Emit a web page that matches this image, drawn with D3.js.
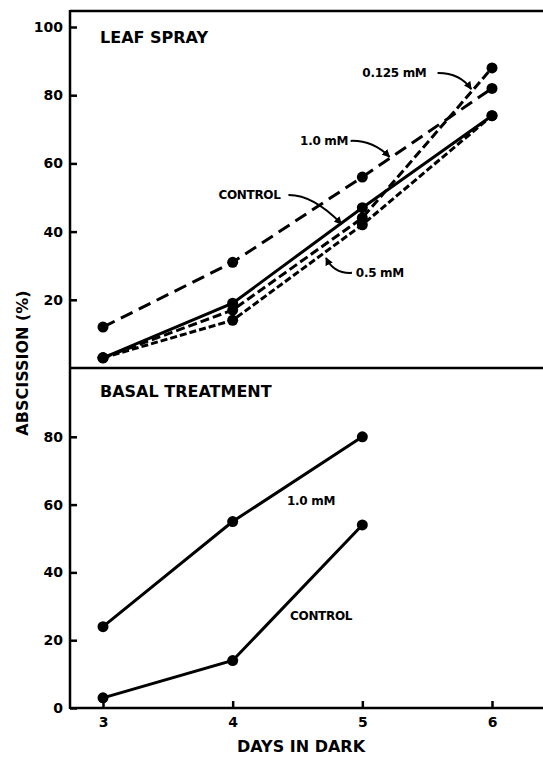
<!DOCTYPE html>
<html>
<head>
<meta charset="utf-8">
<script src="https://cdn.jsdelivr.net/npm/d3@7"></script>
<style>
  body { margin: 0; background: #fff; }
  text { font-family: "DejaVu Sans", "Liberation Sans", Arial, sans-serif; font-weight: bold; fill: #000; }
</style>
</head>
<body>
<div id="chart"></div>
<script>
// days in dark
var days = [3, 4, 5, 6];
var basalDays = [3, 4, 5];

// leaf spray, abscission (%)
var sprayControl = [3, 19, 47, 74];
var spray0125 = [3, 17, 44, 88];
var spray05 = [3, 14, 42, 74];
var spray10 = [12, 31, 56, 82];

// basal treatment, abscission (%)
var basalControl = [3, 14, 54];
var basal10 = [24, 55, 80];

var topTicks = [20, 40, 60, 80, 100];
var bottomTicks = [0, 20, 40, 60, 80];
var xTicks = [3, 4, 5, 6];

var svgWidth = 543;
var svgHeight = 757;

var svg = d3.select("#chart")
  .append("svg")
  .attr("width", svgWidth)
  .attr("height", svgHeight);

var left = 70;
var frameTop = 11;
var mid = 368;
var bottom = 708;

var xScale = d3.scaleLinear().domain([3, 6]).range([103, 492]);
var yTop = d3.scaleLinear().domain([0, 100]).range([mid, 27]);
var yBottom = d3.scaleLinear().domain([0, 100]).range([bottom, 369]);

// frame lines
svg.append("line").attr("x1", left).attr("x2", svgWidth).attr("y1", frameTop).attr("y2", frameTop)
  .attr("stroke", "#000").attr("stroke-width", 2.5);
svg.append("line").attr("x1", left).attr("x2", svgWidth).attr("y1", mid).attr("y2", mid)
  .attr("stroke", "#000").attr("stroke-width", 2.5);
svg.append("line").attr("x1", left).attr("x2", svgWidth).attr("y1", bottom).attr("y2", bottom)
  .attr("stroke", "#000").attr("stroke-width", 2.5);
svg.append("line").attr("x1", left).attr("x2", left).attr("y1", frameTop - 1).attr("y2", bottom + 1)
  .attr("stroke", "#000").attr("stroke-width", 2.5);

// axes
function styleAxis(g) {
  g.select(".domain").remove();
  g.selectAll(".tick line").attr("stroke", "#000").attr("stroke-width", 2.5);
  g.selectAll(".tick text").style("font-size", "14px").style("font-family", "'DejaVu Sans', sans-serif")
    .style("font-weight", "bold");
}

svg.append("g")
  .attr("transform", `translate(${left},0)`)
  .call(d3.axisLeft(yTop).tickValues(topTicks).tickSizeInner(-7).tickSizeOuter(0).tickPadding(7))
  .call(styleAxis);

svg.append("g")
  .attr("transform", `translate(${left},0)`)
  .call(d3.axisLeft(yBottom).tickValues(bottomTicks).tickSizeInner(-7).tickSizeOuter(0).tickPadding(7))
  .call(styleAxis);

svg.append("g")
  .attr("transform", `translate(0,${bottom})`)
  .call(d3.axisBottom(xScale).tickValues(xTicks).tickFormat(d3.format("d")).tickSizeInner(-7).tickSizeOuter(0).tickPadding(9))
  .call(styleAxis);

// axis titles
svg.append("text")
  .attr("transform", `translate(28,363) rotate(-90)`)
  .attr("text-anchor", "middle")
  .style("font-size", "16px")
  .text("ABSCISSION (%)");

svg.append("text")
  .attr("x", 301).attr("y", 752)
  .attr("text-anchor", "middle")
  .style("font-size", "16px")
  .text("DAYS IN DARK");

svg.append("text").attr("x", 100).attr("y", 43).style("font-size", "16px").text("LEAF SPRAY");
svg.append("text").attr("x", 100).attr("y", 397).style("font-size", "16px").text("BASAL TREATMENT");

// series
function drawSeries(xs, ys, yScale, dash) {
  var pts = xs.map((d, i) => [d, ys[i]]);
  var line = d3.line().x(d => xScale(d[0])).y(d => yScale(d[1]));
  svg.append("path")
    .datum(pts)
    .attr("d", line)
    .attr("fill", "none")
    .attr("stroke", "#000")
    .attr("stroke-width", 3)
    .attr("stroke-dasharray", dash);
  svg.append("g").selectAll("circle")
    .data(pts)
    .enter()
    .append("circle")
    .attr("cx", d => xScale(d[0]))
    .attr("cy", d => yScale(d[1]))
    .attr("r", 5.5)
    .attr("fill", "#000");
}

drawSeries(days, spray10, yTop, "13,7");
drawSeries(days, spray0125, yTop, "9,4");
drawSeries(days, spray05, yTop, "7,3");
drawSeries(days, sprayControl, yTop, null);
drawSeries(basalDays, basalControl, yBottom, null);
drawSeries(basalDays, basal10, yBottom, null);

// annotations, placed in data units (start, bend, tip)
var topNotes = [
  { text: "0.125 mM", day: 5.0, pct: 86.5, arrow: [[5.58, 86.5], [5.75, 86.6], [5.84, 81.8]] },
  { text: "1.0 mM", day: 4.52, pct: 66.6, arrow: [[4.91, 66.6], [5.08, 66.8], [5.21, 61.9]] },
  { text: "CONTROL", day: 3.89, pct: 50.7, arrow: [[4.43, 50.7], [4.62, 50.8], [4.84, 42.2]] },
  { text: "0.5 mM", day: 4.95, pct: 27.9, arrow: [[4.92, 27.9], [4.78, 27.6], [4.72, 32.3]] }
];
var bottomNotes = [
  { text: "1.0 mM", day: 4.419, pct: 61.1 },
  { text: "CONTROL", day: 4.442, pct: 27.1 }
];

svg.append("defs").append("marker")
  .attr("id", "head")
  .attr("viewBox", "0 0 10 10")
  .attr("refX", 9).attr("refY", 5)
  .attr("markerWidth", 4).attr("markerHeight", 4)
  .attr("orient", "auto")
  .append("path")
  .attr("d", "M0,0 L10,5 L0,10 z")
  .attr("fill", "#000");

function arrowPath(a) {
  var p = d3.path();
  p.moveTo(xScale(a[0][0]), yTop(a[0][1]));
  p.quadraticCurveTo(xScale(a[1][0]), yTop(a[1][1]), xScale(a[2][0]), yTop(a[2][1]));
  return p.toString();
}

topNotes.forEach(function(n) {
  svg.append("text")
    .attr("x", xScale(n.day))
    .attr("y", yTop(n.pct))
    .attr("dy", "0.35em")
    .style("font-size", "12px")
    .style("letter-spacing", "-0.3px")
    .text(n.text);
  svg.append("path")
    .attr("d", arrowPath(n.arrow))
    .attr("fill", "none")
    .attr("stroke", "#000")
    .attr("stroke-width", 2)
    .attr("marker-end", "url(#head)");
});

bottomNotes.forEach(function(n) {
  svg.append("text")
    .attr("x", xScale(n.day))
    .attr("y", yBottom(n.pct))
    .attr("dy", "0.35em")
    .style("font-size", "12px")
    .style("letter-spacing", "-0.3px")
    .text(n.text);
});
</script>
</body>
</html>
